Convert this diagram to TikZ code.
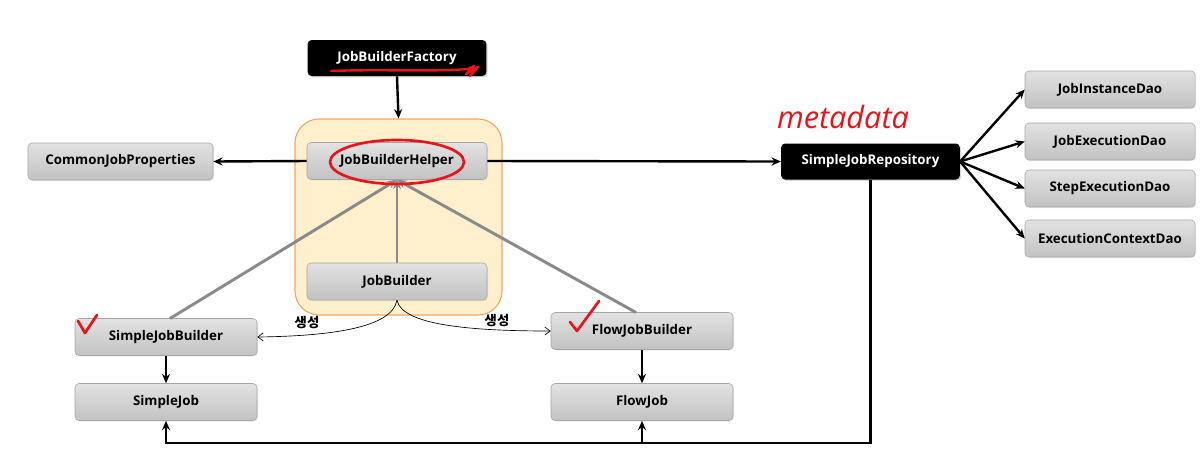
\documentclass[tikz,border=0pt]{standalone}
\usepackage{fontspec}
\setmainfont{Open Sans}
\newfontfamily\kr{Noto Sans CJK KR}
\usetikzlibrary{arrows.meta,shadows}
\definecolor{boxtop}{HTML}{E2E2E2}
\definecolor{boxbot}{HTML}{C2C2C2}
\definecolor{boxline}{HTML}{A6A6A6}
\definecolor{contfill}{HTML}{FEF0CD}
\definecolor{contline}{HTML}{F4A460}
\definecolor{inkred}{HTML}{E8141C}
\definecolor{grayline}{HTML}{8A8A8A}
\begin{document}
\begin{tikzpicture}[x=0.75pt,y=-0.75pt,
  gbox/.style={draw=boxline, rounded corners=3pt, top color=boxtop, bottom color=boxbot,
    minimum width=135pt, minimum height=27.75pt, inner sep=0pt, font=\bfseries\fontsize{10}{12}\selectfont,
    drop shadow={opacity=0.15, shadow xshift=0.8pt, shadow yshift=-0.8pt}},
  kbox/.style={fill=black, rounded corners=3pt, text=white,
    minimum width=134pt, minimum height=27pt, inner sep=0pt, font=\bfseries\fontsize{10}{12}\selectfont,
    drop shadow={opacity=0.3, shadow xshift=1pt, shadow yshift=-1pt}},
  blk/.style={line width=1.8pt, -{Stealth[length=7pt,width=6pt]}},
  gry/.style={line width=2.2pt, draw=grayline, -{Stealth[length=7pt,width=6pt]}},
  thinarr/.style={line width=0.5pt, -{Straight Barb[length=4pt,width=6pt]}},
  lbl/.style={font=\kr\bfseries\fontsize{10}{12}\selectfont},
  ink/.style={draw=inkred, line width=2pt, line cap=round, line join=round}
]
\useasboundingbox (0,0) rectangle (1202,455);
\fill[white] (0,0) rectangle (1202,455);

% container
\node[draw=contline, fill=contfill, rounded corners=18pt, line width=0.8pt,
  minimum width=155.25pt, minimum height=147pt, inner sep=0pt] (cont) at (398.5,217) {};

% nodes
\node[kbox] (jbf) at (397,58) {JobBuilderFactory};
\node[gbox] (jbh) at (397,161) {JobBuilderHelper};
\node[gbox] (jb) at (397,281.5) {JobBuilder};
\node[gbox, minimum width=138.75pt] (cjp) at (120.5,161.5) {CommonJobProperties};
\node[gbox, minimum width=136.5pt] (sjb) at (166,337) {SimpleJobBuilder};
\node[gbox, minimum width=136.5pt] (sj) at (166,402) {SimpleJob};
\node[gbox, minimum width=136.5pt] (fjb) at (642,331) {FlowJobBuilder};
\node[gbox, minimum width=136.5pt] (fj) at (642,402) {FlowJob};
\node[kbox] (sjr) at (870.5,161.5) {SimpleJobRepository};
\node[gbox, minimum width=127.5pt] (d1) at (1110,89.5) {JobInstanceDao};
\node[gbox, minimum width=127.5pt] (d2) at (1110,141.5) {JobExecutionDao};
\node[gbox, minimum width=127.5pt] (d3) at (1110,188.5) {StepExecutionDao};
\node[gbox, minimum width=127.5pt] (d4) at (1110,238.5) {ExecutionContextDao};

% black connectors
\draw[blk] (jbf.south) -- (cont.north);
\draw[blk] (jbh.west) -- (cjp.east);
\draw[blk] (jbh.east) -- (sjr.west);
\draw[blk] (sjb.south) -- (sj.north);
\draw[blk] (fjb.south) -- (fj.north);
\foreach \d in {d1,d2,d3,d4} \draw[blk] (sjr.east) -- (\d.west);
\coordinate (bot) at (0,443);
\draw[blk] (sjr.south) |- (sj.south |- bot) -- (sj.south);
\draw[blk] (fj.south |- bot) -- (fj.south);

% gray connectors
\coordinate (sjbtop) at (170,318.5);
\coordinate (fjbtop) at (636,312.5);
\draw[gry] (sjbtop) -- (jbh.south);
\draw[gry] (jb.north) -- (jbh.south);
\draw[gry] (fjbtop) -- (jbh.south);

% creation curves
\draw[thinarr] (jb.south) .. controls (392,328) and (330,336) .. (sjb.east);
\draw[thinarr] (jb.south) .. controls (402,325) and (470,331) .. (fjb.west);
\node[lbl] (l1) at (307,323) {생성};
\node[lbl] (l2) at (497,321) {생성};

% red annotations
\draw[ink] (397,162) ellipse (67 and 22);
\draw[ink, line width=1.8pt] (331,71) .. controls (380,69) and (430,72) .. (468,69)
  -- (474,66) -- (466,74) -- (478,67) -- (470,76);
\draw[ink] (78,321) -- (85,333) -- (97,315);
\draw[ink] (570,322) -- (577,331) -- (599,301);
\node[text=inkred, font=\itshape\fontsize{23}{25}\selectfont] (meta) at (843,117) {metadata};
\end{tikzpicture}
\end{document}
